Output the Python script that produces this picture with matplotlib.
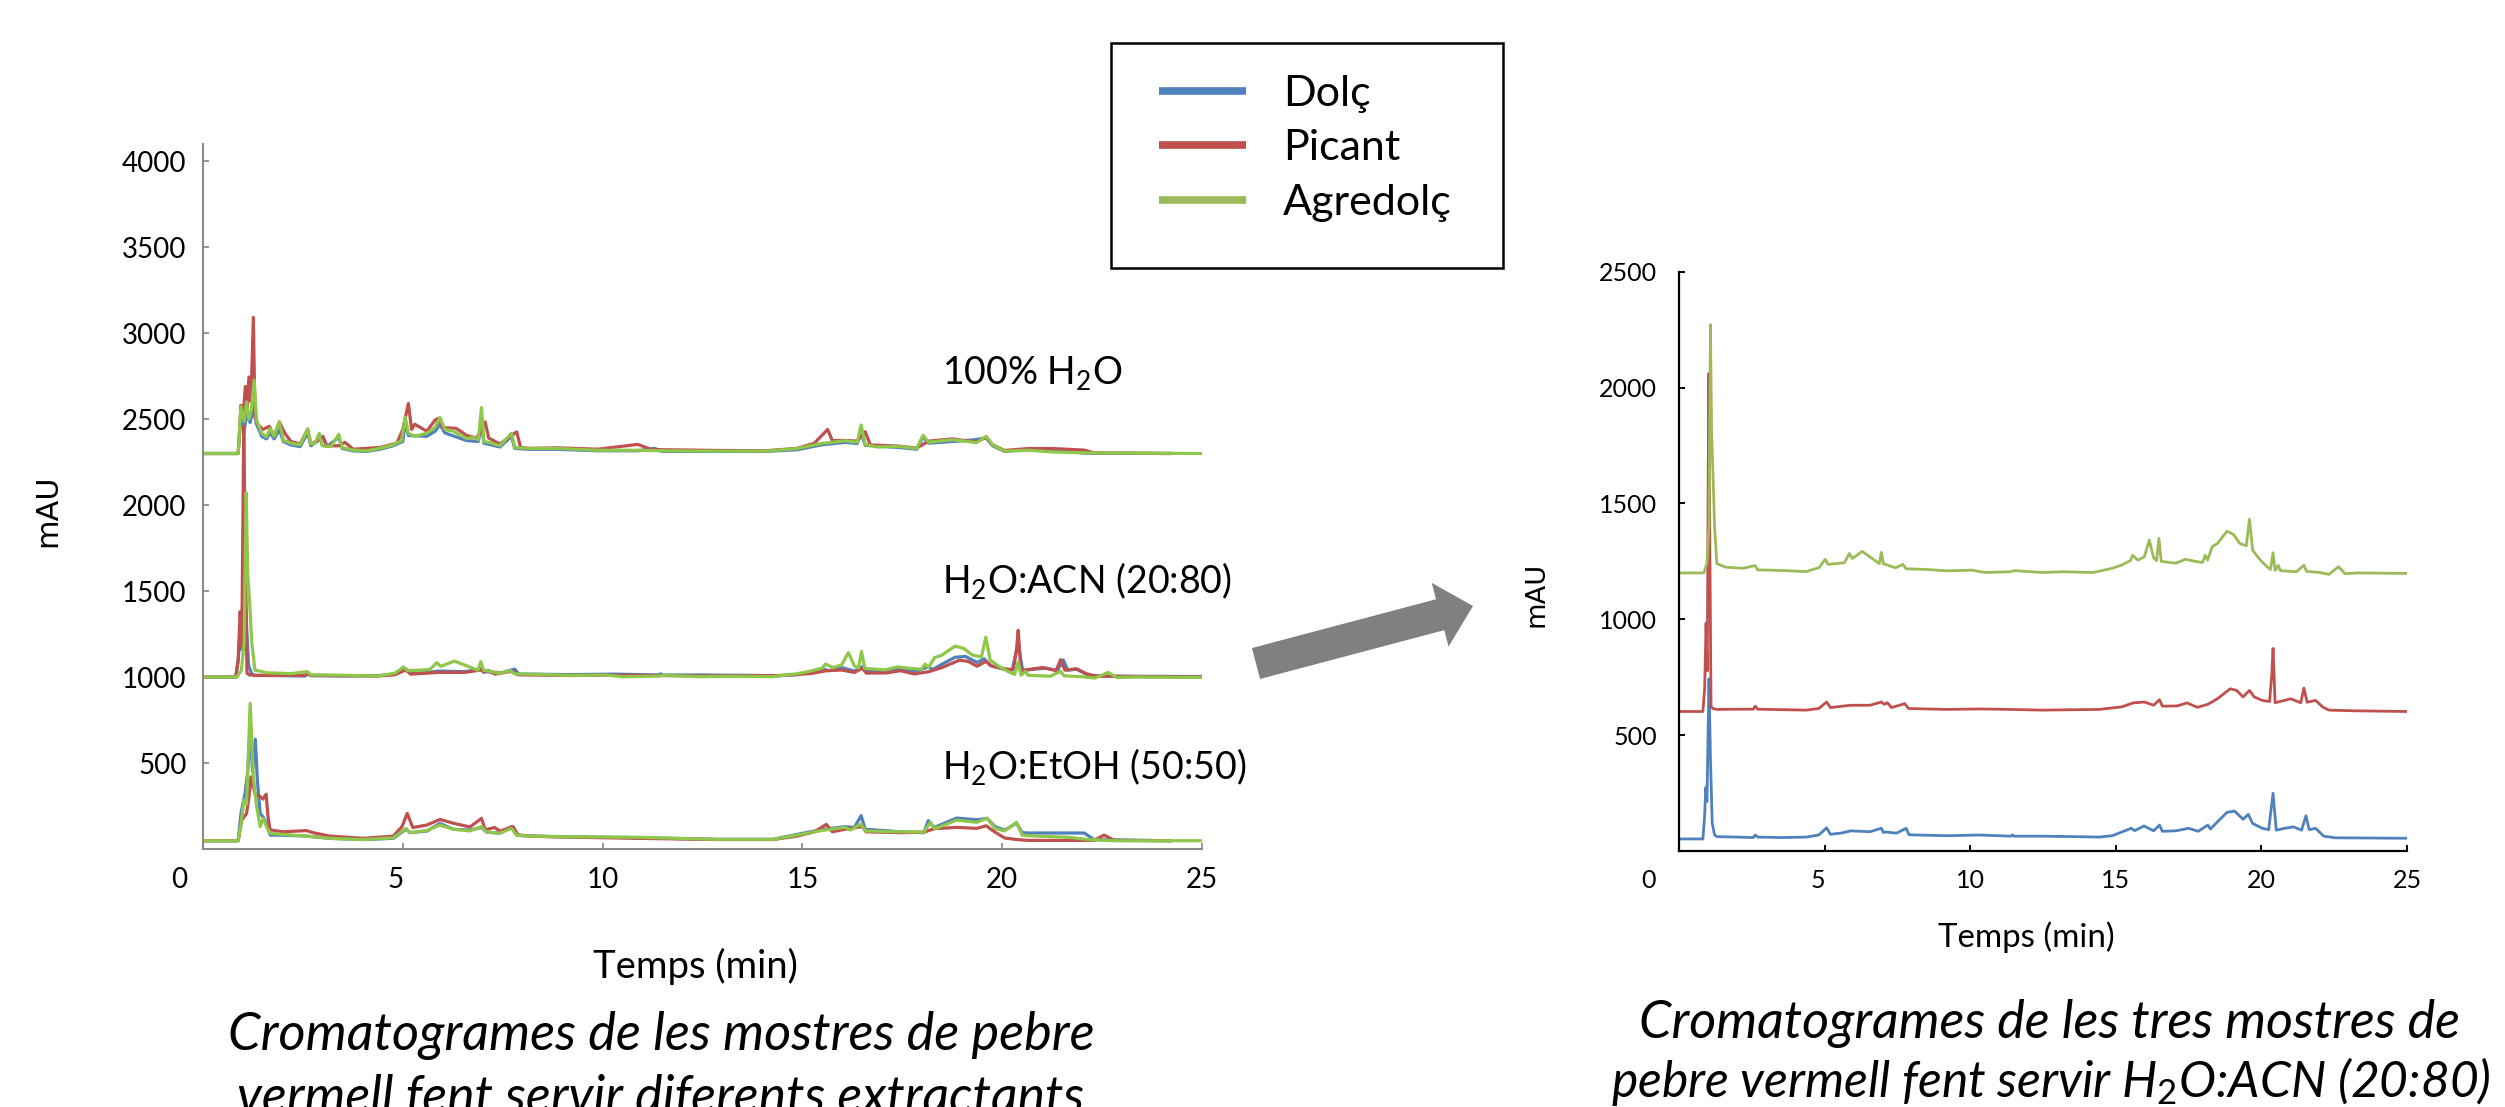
import matplotlib
matplotlib.use("Agg")
import matplotlib.pyplot as plt
from matplotlib.patches import Rectangle, FancyArrow
from matplotlib.lines import Line2D
from matplotlib.transforms import ScaledTranslation

plt.rcParams['font.family'] = ['Lato', 'DejaVu Sans']
plt.rcParams['mathtext.fontset'] = 'custom'
plt.rcParams['mathtext.rm'] = 'Lato'
plt.rcParams['mathtext.it'] = 'Lato:italic'
plt.rcParams['mathtext.bf'] = 'Lato:bold'

# ---------------- data ----------------
series_names = ['Dolç', 'Picant', 'Agredolç']

# 100% H2O (left chart, top group)
h2o_blue_t = [0, 0.88, 0.95, 1.03, 1.1, 1.18, 1.26, 1.34, 1.47, 1.59, 1.68, 1.78, 1.91, 2.01, 2.2, 2.43, 2.62, 2.7, 2.91, 3.0,
              3.1, 3.4, 3.48, 3.76, 4.09, 4.43, 4.76, 5.0, 5.06, 5.14, 5.6, 5.81, 5.93, 6.05, 6.6, 6.89, 6.97, 7.03, 7.43, 7.72,
              7.8, 8.18, 8.89, 9.88, 10.88, 11.3, 11.48, 12.88, 14.07, 14.87, 15.47, 16.07, 16.37, 16.47, 16.57, 17.42, 17.86, 18.02, 18.16, 18.76,
              19.06, 19.3, 19.6, 19.76, 20.06, 20.66, 21.26, 22.05, 24.2]
h2o_blue_v = [2300, 2300, 2520, 2440, 2530, 2480, 2560, 2470, 2400, 2385, 2420, 2385, 2440, 2370, 2350, 2340, 2420, 2345, 2380, 2400,
              2340, 2395, 2330, 2315, 2312, 2325, 2345, 2370, 2480, 2405, 2400, 2430, 2470, 2420, 2375, 2370, 2470, 2360, 2338, 2400,
              2330, 2324, 2324, 2316, 2316, 2330, 2312, 2312, 2312, 2322, 2350, 2365, 2358, 2420, 2348, 2335, 2325, 2395, 2360, 2370,
              2375, 2380, 2390, 2345, 2312, 2322, 2322, 2302, 2300]
h2o_red_t = [0, 0.88, 0.95, 1.0, 1.06, 1.1, 1.15, 1.2, 1.26, 1.3, 1.36, 1.5, 1.66, 1.78, 1.91, 2.05, 2.2, 2.43, 2.62, 2.7,
             3.0, 3.1, 3.4, 3.55, 3.76, 4.43, 4.85, 5.0, 5.14, 5.22, 5.3, 5.6, 5.81, 5.9, 6.0, 6.33, 6.6, 6.85, 6.97, 7.06,
             7.15, 7.43, 7.85, 7.95, 8.18, 8.89, 9.88, 10.88, 11.2, 11.48, 12.88, 14.07, 14.87, 15.3, 15.63, 15.75, 16.07, 16.37, 16.57, 16.7,
             17.42, 17.86, 18.16, 18.76, 19.06, 19.36, 19.6, 19.76, 20.06, 20.66, 21.26, 22.05, 22.3, 24.2]
h2o_red_v = [2300, 2300, 2580, 2500, 2690, 2560, 2745, 2600, 3091, 2520, 2470, 2440, 2458, 2400, 2484, 2417, 2370, 2355, 2442, 2352,
             2397, 2345, 2345, 2365, 2325, 2335, 2360, 2440, 2591, 2440, 2470, 2430, 2495, 2505, 2450, 2447, 2405, 2390, 2440, 2484,
             2390, 2355, 2426, 2335, 2330, 2333, 2325, 2353, 2325, 2322, 2318, 2316, 2330, 2360, 2440, 2375, 2376, 2372, 2427, 2350,
             2343, 2332, 2372, 2385, 2375, 2368, 2395, 2350, 2318, 2329, 2329, 2320, 2304, 2300]
h2o_green_t = [0, 0.88, 0.95, 1.03, 1.09, 1.15, 1.21, 1.28, 1.34, 1.47, 1.59, 1.68, 1.78, 1.91, 2.01, 2.2, 2.43, 2.62, 2.7, 2.8,
               2.91, 2.98, 3.2, 3.4, 3.48, 3.76, 4.09, 4.43, 4.76, 4.97, 5.06, 5.14, 5.3, 5.6, 5.81, 5.93, 6.05, 6.26, 6.6, 6.75,
               6.89, 6.97, 7.03, 7.2, 7.43, 7.72, 7.8, 8.18, 8.89, 9.88, 10.88, 11.48, 12.88, 14.07, 14.87, 15.47, 16.07, 16.37, 16.47, 16.57,
               16.87, 17.42, 17.86, 18.02, 18.16, 18.76, 19.06, 19.36, 19.6, 19.76, 20.06, 20.66, 21.26, 22.05, 25]
h2o_green_v = [2300, 2300, 2572, 2486, 2600, 2500, 2552, 2727, 2494, 2417, 2397, 2446, 2400, 2484, 2378, 2360, 2350, 2442, 2355, 2360,
               2417, 2345, 2340, 2412, 2335, 2320, 2316, 2330, 2350, 2375, 2512, 2418, 2400, 2418, 2452, 2509, 2440, 2430, 2387, 2395,
               2380, 2568, 2370, 2362, 2345, 2418, 2335, 2329, 2329, 2319, 2319, 2316, 2314, 2314, 2329, 2358, 2374, 2365, 2466, 2352,
               2338, 2341, 2329, 2406, 2366, 2380, 2372, 2363, 2400, 2350, 2314, 2319, 2309, 2304, 2300]

# H2O:ACN (20:80) -- values as read on the right chart (stacked there)
acn_blue_t = [0, 0.82, 0.88, 0.92, 0.96, 1.03, 1.08, 1.14, 1.22, 1.3, 2.0, 2.55, 2.62, 2.7, 3.5, 4.37, 4.8, 5.07, 5.2, 5.6,
              5.9, 6.55, 6.95, 7.02, 7.1, 7.47, 7.8, 7.9, 8.5, 9.18, 10.3, 11.4, 11.45, 11.5, 12.47, 13.56, 14.44, 14.88, 15.53, 15.65,
              15.97, 16.3, 16.5, 16.6, 17.06, 17.5, 17.83, 18.16, 18.25, 18.49, 18.82, 19.08, 19.37, 19.55, 19.7, 20.03, 20.25, 20.4, 20.51, 20.8,
              21.1, 21.38, 21.53, 21.64, 21.86, 22.14, 22.54, 25]
acn_blue_v = [52, 52, 150, 274, 214, 743, 400, 120, 70, 62, 60, 58, 69, 60, 58, 60, 69, 100, 72, 78,
              87, 83, 98, 80, 82, 77, 98, 70, 68, 66, 69, 64, 70, 64, 64, 62, 60, 66, 98, 88,
              108, 87, 112, 85, 87, 98, 85, 112, 95, 126, 167, 172, 137, 158, 119, 98, 92, 249, 90, 98,
              104, 90, 152, 92, 98, 64, 57, 55]
acn_red_t = [0, 0.82, 0.88, 0.93, 0.97, 1.02, 1.06, 1.1, 1.16, 1.3, 2.0, 2.55, 2.62, 2.7, 3.5, 4.37, 4.8, 5.07, 5.2, 5.9,
             6.56, 6.95, 7.05, 7.15, 7.3, 7.75, 7.88, 9.18, 10.3, 11.38, 12.47, 14.44, 15.2, 15.6, 15.98, 16.3, 16.5, 16.6, 17.1, 17.45,
             17.8, 18.16, 18.49, 18.93, 19.15, 19.37, 19.59, 19.75, 20.03, 20.28, 20.36, 20.4, 20.47, 20.8, 21.0, 21.35, 21.46, 21.57, 21.86, 22.1,
             22.32, 23.2, 25]
acn_red_v = [602, 602, 700, 983, 777, 2060, 1300, 625, 615, 611, 612, 612, 625, 612, 610, 608, 615, 643, 619, 629,
             629, 643, 633, 640, 619, 636, 615, 611, 613, 611, 608, 611, 622, 639, 643, 629, 653, 625, 626, 639,
             620, 633, 657, 700, 693, 665, 693, 665, 650, 645, 766, 874, 640, 650, 657, 640, 703, 642, 650, 622,
             608, 605, 602]
acn_green_t = [0, 0.85, 0.96, 1.03, 1.08, 1.12, 1.17, 1.22, 1.3, 1.6, 2.2, 2.61, 2.7, 3.16, 3.6, 4.37, 4.81, 5.02, 5.12, 5.68,
               5.85, 5.95, 6.29, 6.56, 6.88, 6.95, 7.02, 7.43, 7.69, 7.8, 8.52, 9.18, 10.06, 10.5, 11.38, 11.5, 12.47, 13.2, 14.23, 14.88,
               15.2, 15.5, 15.58, 15.76, 15.98, 16.15, 16.3, 16.4, 16.48, 16.56, 17.06, 17.39, 17.72, 17.98, 18.07, 18.15, 18.31, 18.49, 18.82, 19.04,
               19.26, 19.48, 19.59, 19.7, 19.92, 20.14, 20.31, 20.4, 20.47, 20.58, 20.65, 21.2, 21.46, 21.55, 21.99, 22.32, 22.65, 22.87, 23.3, 25]
acn_green_v = [1200, 1200, 1240, 1400, 2271, 1800, 1620, 1400, 1240, 1225, 1220, 1232, 1213, 1212, 1210, 1206, 1223, 1259, 1237, 1244,
               1284, 1262, 1293, 1269, 1240, 1289, 1240, 1222, 1237, 1218, 1215, 1209, 1212, 1202, 1205, 1210, 1202, 1205, 1202, 1220,
               1234, 1253, 1276, 1255, 1270, 1342, 1265, 1253, 1349, 1250, 1242, 1259, 1250, 1245, 1276, 1255, 1313, 1327, 1380, 1366,
               1327, 1317, 1432, 1298, 1262, 1233, 1215, 1287, 1211, 1233, 1210, 1205, 1233, 1207, 1202, 1194, 1227, 1197, 1200, 1198]
# shift that puts each ACN trace on the 1000 mAU baseline of the left chart
acn_left_shift = [948, 398, -200]

# H2O:EtOH (50:50) (left chart, bottom group)
etoh_blue_t = [0, 0.88, 0.95, 1.05, 1.12, 1.18, 1.24, 1.31, 1.36, 1.43, 1.51, 1.58, 1.68, 2.0, 2.59, 3.18, 4.01, 4.76, 5.08, 5.18,
               5.6, 5.93, 6.26, 6.68, 6.97, 7.1, 7.43, 7.72, 7.85, 8.18, 8.89, 10.88, 12.88, 14.27, 14.87, 15.47, 16.07, 16.3, 16.47, 16.57,
               17.46, 18.04, 18.15, 18.3, 18.86, 19.36, 19.62, 19.82, 20.06, 20.36, 20.5, 20.66, 22.05, 22.3, 24.2]
etoh_blue_v = [48, 48, 207, 320, 450, 700, 450, 638, 400, 207, 184, 150, 81, 80, 75, 62, 55, 62, 115, 95,
               104, 149, 115, 110, 125, 98, 92, 130, 80, 75, 72, 66, 56, 56, 85, 112, 130, 125, 194, 115,
               100, 95, 165, 125, 180, 170, 178, 130, 110, 150, 95, 93, 93, 55, 48]
etoh_red_t = [0, 0.88, 0.97, 1.09, 1.15, 1.2, 1.26, 1.32, 1.43, 1.5, 1.58, 1.63, 1.68, 2.0, 2.59, 2.75, 3.18, 4.01, 4.76, 4.98,
              5.11, 5.25, 5.6, 5.93, 6.26, 6.68, 6.97, 7.06, 7.3, 7.43, 7.76, 7.88, 8.18, 8.89, 10.88, 12.88, 14.27, 14.87, 15.3, 15.6,
              15.75, 16.07, 16.5, 16.6, 17.46, 18.04, 18.3, 18.86, 19.36, 19.6, 19.82, 20.06, 20.36, 20.66, 22.3, 22.55, 22.8, 24.2]
etoh_red_v = [48, 48, 168, 207, 300, 420, 360, 310, 305, 290, 319, 180, 111, 100, 107, 95, 75, 62, 75, 130,
              207, 125, 139, 172, 150, 128, 178, 112, 125, 104, 130, 82, 75, 70, 62, 55, 55, 75, 100, 143,
              100, 115, 130, 100, 95, 98, 118, 126, 120, 135, 98, 64, 55, 50, 50, 81, 50, 48]
etoh_green_t = [0, 0.88, 0.95, 1.03, 1.09, 1.18, 1.26, 1.34, 1.43, 1.51, 1.6, 1.68, 2.0, 2.59, 3.18, 4.01, 4.76, 5.08, 5.18, 5.6,
                5.93, 6.26, 6.68, 6.97, 7.1, 7.43, 7.72, 7.85, 8.18, 8.89, 10.88, 12.88, 14.27, 14.87, 15.47, 16.07, 16.2, 16.47, 16.57, 17.46,
                18.04, 18.2, 18.32, 18.86, 19.36, 19.62, 19.82, 20.06, 20.36, 20.5, 20.86, 21.66, 22.15, 22.8, 25]
etoh_green_v = [48, 48, 149, 285, 260, 847, 420, 250, 130, 178, 125, 91, 85, 75, 62, 55, 65, 120, 95, 108,
                139, 115, 105, 130, 98, 92, 120, 80, 75, 72, 68, 56, 56, 81, 107, 126, 110, 145, 105, 100,
                98, 155, 118, 168, 155, 180, 120, 105, 155, 80, 75, 68, 55, 48, 48]

group_labels = ['100% H$_2$O', 'H$_2$O:ACN (20:80)', 'H$_2$O:EtOH (50:50)']
group_label_pos = [(18.5, 2767), (18.5, 1564), (18.5, 477)]

left_xticks = [0, 5, 10, 15, 20, 25]
left_yticks = [500, 1000, 1500, 2000, 2500, 3000, 3500, 4000]
right_xticks = [0, 5, 10, 15, 20, 25]
right_yticks = [500, 1000, 1500, 2000, 2500]

colors_left = ['#4F81BD', '#C0504D', '#8FC74A']
colors_right = ['#4F81BD', '#C0504D', '#9BBB59']
legend_colors = ['#4F81BD', '#C0504D', '#9BBB59']

# ---------------- figure ----------------
W, H = 2505, 1107
fig = plt.figure(figsize=(W / 100, H / 100), dpi=100)


def fx(px):
    return px / W


def fy(py):
    return 1 - py / H


axL = fig.add_axes([fx(203), fy(849), fx(1202) - fx(203), fy(144) - fy(849)])
axR = fig.add_axes([fx(1679), fy(851), fx(2407) - fx(1679), fy(271.7) - fy(851)])
ov = fig.add_axes([0, 0, 1, 1], zorder=3)
ov.set_xlim(0, W)
ov.set_ylim(H, 0)
ov.axis('off')

# left chart
groups = [
    [(h2o_blue_t, h2o_blue_v), (h2o_red_t, h2o_red_v), (h2o_green_t, h2o_green_v)],
    [(acn_blue_t, [v + acn_left_shift[0] for v in acn_blue_v]),
     (acn_red_t, [v + acn_left_shift[1] for v in acn_red_v]),
     (acn_green_t, [v + acn_left_shift[2] for v in acn_green_v])],
    [(etoh_blue_t, etoh_blue_v), (etoh_red_t, etoh_red_v), (etoh_green_t, etoh_green_v)],
]
for g in groups:
    for (t, v), c in zip(g, colors_left):
        axL.plot(t, v, color=c, lw=2.3, solid_joinstyle='round')

for lab, (x, y) in zip(group_labels, group_label_pos):
    axL.text(x, y, lab, fontsize=27, ha='left', va='center')

axL.set_xlim(0, 25)
axL.set_ylim(0, 4100)
axL.set_xticks(left_xticks)
axL.set_yticks(left_yticks)
for s in ['top', 'right']:
    axL.spines[s].set_visible(False)
for s in ['left', 'bottom']:
    axL.spines[s].set_color('#868686')
    axL.spines[s].set_linewidth(1.4)
axL.tick_params(axis='both', direction='in', length=4, width=1.2, color='#868686', labelsize=20)
axL.tick_params(axis='x', pad=13)
axL.tick_params(axis='y', pad=12)
axL.patch.set_alpha(0)

# right chart
right_sets = [(acn_blue_t, acn_blue_v), (acn_red_t, acn_red_v), (acn_green_t, acn_green_v)]
for (t, v), c in zip(right_sets, colors_right):
    axR.plot(t, v, color=c, lw=2.0, solid_joinstyle='round')
axR.set_xlim(0, 25)
axR.set_ylim(0, 2500)
axR.set_xticks(right_xticks)
axR.set_yticks(right_yticks)
for s in ['top', 'right']:
    axR.spines[s].set_visible(False)
for s in ['left', 'bottom']:
    axR.spines[s].set_color('black')
    axR.spines[s].set_linewidth(1.6)
axR.tick_params(axis='both', direction='in', length=4, width=1.4, color='black', labelsize=18)
axR.tick_params(axis='x', pad=13)
axR.tick_params(axis='y', pad=16)
axR.patch.set_alpha(0)

# legend (box drawn separately)
ov.add_patch(Rectangle((1111, 43), 392, 225, facecolor='white', edgecolor='black', lw=1.8, zorder=1))
handles = [Line2D([], [], color=c, lw=5.5, solid_capstyle='butt') for c in legend_colors]
leg = fig.legend(handles, series_names, loc='upper left', bbox_to_anchor=(fx(1159), fy(75)),
                 frameon=False, fontsize=31, handlelength=2.02, handletextpad=0.86,
                 labelspacing=0.38, borderpad=0, borderaxespad=0)
leg.set_zorder(10)

# arrow
ov.add_patch(FancyArrow(1256, 663.5, 217, -57.5, width=32, head_width=66, head_length=34,
                        length_includes_head=True, color='#808080', lw=0))

# axis titles and captions
t_mauL = ov.text(48, 511, 'mAU', rotation=90, ha='center', va='center', fontsize=22, family='DejaVu Sans')
t_mauR = ov.text(1537, 594, 'mAU', rotation=90, ha='center', va='center', fontsize=20, family='DejaVu Sans')
t_tempsL = ov.text(695, 966, 'Temps (min)', ha='center', va='center', fontsize=24)
t_tempsR = ov.text(2026, 937, 'Temps (min)', ha='center', va='center', fontsize=22)
capL1 = ov.text(661, 1036, 'Cromatogrames de les mostres de pebre', ha='center', va='center',
                fontsize=34, style='italic')
capL2 = ov.text(661, 1098, 'vermell fent servir diferents extractants', ha='center', va='center',
                fontsize=34, style='italic')
capR1 = ov.text(2050, 1024, 'Cromatogrames de les tres mostres de', ha='center', va='center',
                fontsize=34, style='italic')
capR2 = ov.text(2051, 1082, r'pebre vermell fent servir $\mathit{H}_{\mathit{2}}\mathit{O}$:ACN (20:80)',
                ha='center', va='center', fontsize=34, style='italic')

# size texts to the widths measured on the reference
fig.canvas.draw()
r = fig.canvas.get_renderer()


def fit(t, target, use_height=False):
    bb = t.get_window_extent(r)
    cur = bb.height if use_height else bb.width
    t.set_fontsize(t.get_fontsize() * target / cur)


fit(t_mauL, 72, True)
fit(t_mauR, 65, True)
fit(t_tempsL, 205)
fit(t_tempsR, 176)
fit(capL1, 866)
fit(capL2, 846)
fit(capR1, 822)
fit(capR2, 880)

# Excel-style shift of the first x tick labels
for ax, shifts in [(axL, [-24, -7]), (axR, [-30, -7])]:
    ticks = ax.xaxis.get_major_ticks()
    for tk, dxp in zip(ticks[:2], shifts):
        tk.label1.set_transform(tk.label1.get_transform() + ScaledTranslation(dxp / 100, 0, fig.dpi_scale_trans))

fig.savefig('out.png', dpi=100, facecolor='white')
